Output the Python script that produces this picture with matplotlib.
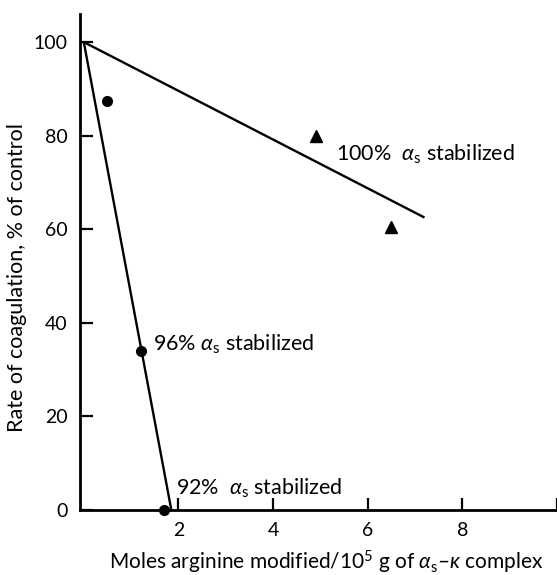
import matplotlib
matplotlib.use("Agg")
import matplotlib.pyplot as plt

plt.rcParams["font.family"] = ["Lato", "DejaVu Sans"]
plt.rcParams["mathtext.fontset"] = "custom"
plt.rcParams["mathtext.rm"] = "Lato"
plt.rcParams["mathtext.it"] = "Lato:italic"
plt.rcParams["mathtext.bf"] = "Lato:bold"

# measured points
circle_x = [0.5, 1.2, 1.7]
circle_y = [87.5, 34, 0]
triangle_x = [4.9, 6.5]
triangle_y = [80, 60.5]

# fitted lines (start, end)
line_100_x = [0, 7.2]
line_100_y = [100, 62.5]
line_96_x = [0, 1.85]
line_96_y = [100, 0]

x_ticks = [2, 4, 6, 8, 10]
x_tick_labels = ["2", "4", "6", "8", ""]
y_ticks = [0, 20, 40, 60, 80, 100]

fig = plt.figure(figsize=(5.57, 5.75), dpi=100)
ax = fig.add_axes([80 / 557, 65 / 575, 477 / 557, 496 / 575])

ax.plot(line_100_x, line_100_y, color="black", lw=1.7, solid_capstyle="butt")
ax.plot(line_96_x, line_96_y, color="black", lw=1.7, solid_capstyle="butt", clip_on=False)
ax.plot(circle_x, circle_y, "o", color="black", ms=7, clip_on=False, zorder=5)
ax.plot(triangle_x, triangle_y, "^", color="black", ms=8, clip_on=False, zorder=5)

ax.text(5.34, 76, r"100%  $\alpha_{\rm s}$ stabilized", fontsize=15.5, va="center")
ax.text(1.46, 35.5, r"96% $\alpha_{\rm s}$ stabilized", fontsize=15.5, va="center")
ax.text(1.94, 4.7, r"92%  $\alpha_{\rm s}$ stabilized", fontsize=15.5, va="center")

ax.set_xlim(-0.08, 10)
ax.set_ylim(0, 106)
ax.set_xticks(x_ticks)
ax.set_xticklabels(x_tick_labels)
ax.set_yticks(y_ticks)

for side in ["top", "right"]:
    ax.spines[side].set_visible(False)
for side in ["left", "bottom"]:
    ax.spines[side].set_linewidth(2)

ax.tick_params(direction="in", length=9, width=1.6, labelsize=14, pad=9)

ax.set_xlabel(r"Moles arginine modified/10$^5$ g of $\alpha_{\rm s}$–$\kappa$ complex", fontsize=15)
ax.set_ylabel("Rate of coagulation, % of control", fontsize=15.5)
ax.xaxis.set_label_coords(0.516, -0.078)
ax.yaxis.set_label_coords(-0.111, 0.468)

fig.savefig("out.png", dpi=100)
